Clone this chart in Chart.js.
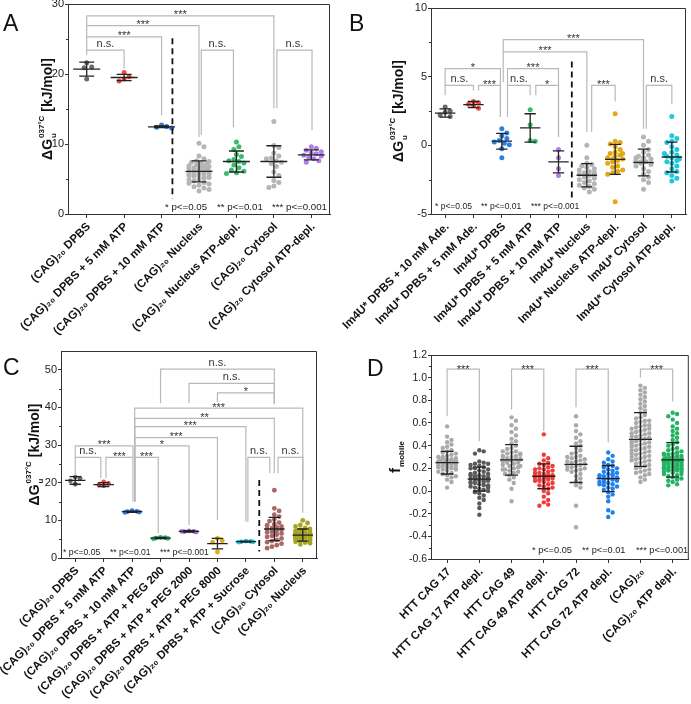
<!DOCTYPE html>
<html>
<head>
<meta charset="utf-8">
<script src="https://cdn.jsdelivr.net/npm/chart.js@4.4.0/dist/chart.umd.min.js"></script>
<style>
  body { margin: 0; background: #fff; }
  #wrap { position: relative; width: 691px; height: 704px; overflow: hidden; font-family: 'Liberation Sans', Arial, sans-serif; }
  canvas { position: absolute; }
  .tag { position: absolute; font-size: 23px; line-height: 1; color: #111; }
</style>
</head>
<body>
<div id="wrap">
  <canvas id="cA" width="345" height="355" style="left:0;top:0"></canvas>
  <canvas id="cB" width="356" height="355" style="left:335px;top:0"></canvas>
  <canvas id="cC" width="345" height="359" style="left:0;top:345px"></canvas>
  <canvas id="cD" width="346" height="359" style="left:345px;top:345px"></canvas>
  <div class="tag" style="left:3px;top:12px">A</div>
  <div class="tag" style="left:349px;top:12px">B</div>
  <div class="tag" style="left:3px;top:356px">C</div>
  <div class="tag" style="left:367px;top:357px">D</div>
</div>
<script>
// ---- data ----

const pNotes = ['* p<=0.05', '** p<=0.01', '*** p<=0.001'];

// A
const aLabels = ['(CAG)₂₀ DPBS', '(CAG)₂₀ DPBS + 5 mM ATP', '(CAG)₂₀ DPBS + 10 mM ATP', '(CAG)₂₀ Nucleus',
  '(CAG)₂₀ Nucleus ATP-depl.', '(CAG)₂₀ Cytosol', '(CAG)₂₀ Cytosol ATP-depl.'];
const aPoints = [
  [21.6, 21.0, 20.9, 19.3],
  [20.2, 19.6, 19.3, 19.0],
  [12.7, 12.5, 12.4, 12.3],
  [10.1, 9.6, 8.3, 7.9, 7.6, 7.4, 7.2, 7.1, 7.0, 6.9, 6.8, 6.7, 6.6, 6.5, 6.4, 6.4, 6.3, 6.2, 6.1, 6.0, 6.0, 5.9,
    5.8, 5.7, 5.6, 5.5, 5.4, 5.3, 5.2, 5.0, 4.9, 4.7, 4.5, 4.3, 4.1, 3.9, 3.7, 3.5, 3.3, 6.6, 5.8, 7.5, 5.1, 6.2, 4.4],
  [10.3, 9.6, 9.2, 8.5, 8.2, 7.8, 7.6, 7.5, 7.3, 7.0, 6.6, 6.3, 6.1, 5.9, 5.8],
  [13.2, 9.8, 9.5, 8.7, 8.3, 8.0, 7.9, 7.6, 7.4, 7.2, 6.8, 6.0, 5.5, 4.8, 4.5, 4.0, 3.8],
  [9.6, 9.4, 9.1, 8.9, 8.7, 8.6, 8.4, 8.3, 8.1, 7.9, 7.6, 7.4]
];
const aMean = [20.7, 19.5, 12.45, 6.1, 7.5, 7.5, 8.45];
const aSd = [1.0, 0.45, 0.12, 1.5, 1.5, 2.25, 0.72];
const aTicks = [0, 10, 20, 30];
const aSig = [
  [0, 1, 23.4, 'n.s.', 22.7, 20.8],
  [0, 2, 25.3, '***', 23.4, 14.1],
  [0, 3, 26.9, '***', 25.3, 11.0],
  [0, 5, 28.3, '***', 26.9, 15.1],
  [3.06, 3.92, 23.4, 'n.s.', 11.3, 12.4],
  [5.08, 6.02, 23.4, 'n.s.', 15.1, 12.0]
];

// B
const bLabels = ['Im4U* DPBS + 10 mM Ade.', 'Im4U* DPBS + 5 mM Ade.', 'Im4U* DPBS', 'Im4U* DPBS + 5 mM ATP',
  'Im4U* DPBS + 10 mM ATP', 'Im4U* Nucleus', 'Im4U* Nucleus ATP-depl.', 'Im4U* Cytosol', 'Im4U* Cytosol ATP-depl.'];
const bPoints = [
  [2.8, 2.5, 2.4, 2.2, 2.1],
  [3.2, 3.1, 3.0, 2.9, 2.7],
  [1.2, 0.9, 0.7, 0.5, 0.35, 0.25, 0.15, 0.05, -0.25, -0.9],
  [2.6, 1.5, 0.35, 0.3],
  [-0.3, -0.9, -1.7, -2.2],
  [0.0, -0.9, -1.3, -1.4, -1.5, -1.6, -1.7, -1.8, -1.9, -2.0, -2.0, -2.1, -2.2, -2.3, -2.4, -2.5, -2.6, -2.7,
    -2.8, -2.9, -3.0, -3.1, -3.2, -3.4, -2.2],
  [2.3, 0.3, 0.2, 0.1, -0.1, -0.3, -0.5, -0.6, -0.7, -0.8, -0.9, -1.0, -1.1, -1.2, -1.3, -1.5, -1.6, -1.8,
    -1.9, -2.0, -2.1, -4.1, -1.0, -0.6],
  [0.6, 0.3, 0.0, -0.3, -0.5, -0.7, -0.8, -0.9, -1.0, -1.1, -1.2, -1.3, -1.4, -1.5, -1.7, -1.9, -2.1, -2.3,
    -2.5, -2.7, -3.2, -1.2, -0.9],
  [2.1, 0.7, 0.5, 0.3, 0.2, -0.1, -0.3, -0.5, -0.7, -0.8, -0.9, -1.0, -1.2, -1.3, -1.5, -1.7, -1.9, -2.0,
    -2.2, -2.4, -2.6, -0.6, -1.1]
];
const bMean = [2.35, 2.97, 0.3, 1.27, -1.2, -2.18, -1.02, -1.25, -0.85];
const bSd = [0.3, 0.22, 0.57, 1.03, 0.8, 0.85, 1.09, 0.97, 1.09];
const bTicks = [-5, 0, 5, 10];
const bSig = [
  [0, 1, 4.37, 'n.s.', 3.64, 4.0],
  [1.18, 1.95, 4.37, '***', 4.0, 2.06],
  [0, 1.95, 5.58, '*', 4.37, 2.06],
  [2.2, 3, 4.37, 'n.s.', 2.06, 3.64],
  [3.2, 4, 4.37, '*', 3.64, 0.6],
  [2.2, 4, 5.58, '***', 4.37, 0.6],
  [2.05, 5, 6.8, '***', 4.6, 0.97],
  [2.05, 7, 7.7, '***', 6.8, 1.2],
  [5.17, 6, 4.37, '***', 0.97, 3.2],
  [7.1, 8, 4.37, 'n.s.', 1.2, 3.0]
];

// C
const cLabels = ['(CAG)₂₀ DPBS', '(CAG)₂₀ DPBS + 5 mM ATP', '(CAG)₂₀ DPBS + 10 mM ATP', '(CAG)₂₀ DPBS + ATP + PEG 200',
  '(CAG)₂₀ DPBS + ATP + PEG 2000', '(CAG)₂₀ DPBS + ATP + PEG 8000', '(CAG)₂₀ DPBS + ATP + Sucrose',
  '(CAG)₂₀ Cytosol', '(CAG)₂₀ Nucleus'];
const cPoints = [
  [21.5, 21.2, 20.5, 19.6],
  [20.2, 19.8, 19.4, 19.2],
  [12.6, 12.4, 12.3, 12.2, 12.1],
  [5.5, 5.4, 5.3, 5.2, 5.1],
  [7.2, 7.1, 7.0, 6.9, 7.1],
  [5.2, 4.6, 4.2, 1.6],
  [4.5, 4.4, 4.3, 4.3, 4.2],
  [18.0, 13.2, 12.5, 11.5, 11.0, 10.2, 9.8, 9.4, 9.0, 8.7, 8.4, 8.1, 7.9, 7.7, 7.5, 7.2, 7.0, 6.8, 6.5, 6.2,
    5.9, 5.6, 5.2, 4.8, 4.5, 4.2, 3.8, 3.4, 3.0, 2.6],
  [10.0, 9.3, 8.8, 8.4, 8.0, 7.7, 7.5, 7.3, 7.1, 7.0, 6.9, 6.8, 6.7, 6.6, 6.5, 6.4, 6.3, 6.3, 6.2, 6.1, 6.0,
    6.0, 5.9, 5.8, 5.7, 5.6, 5.5, 5.4, 5.3, 5.2, 5.1, 5.0, 4.9, 4.7, 4.5, 4.3, 4.1, 3.9, 3.6, 6.5, 6.2, 5.8]
];
const cMean = [20.6, 19.5, 12.3, 5.3, 7.05, 3.8, 4.35, 7.7, 6.1];
const cSd = [1.0, 0.55, 0.15, 0.15, 0.2, 1.4, 0.1, 3.1, 1.6];
const cTicks = [0, 10, 20, 30, 40, 50];
const cSig = [
  [3, 7, 50.2, 'n.s.', 41.1, 41.0],
  [4, 7, 46.4, 'n.s.', 41.1, 41.0],
  [5, 7, 43.9, '*', 41.3, 41.0],
  [2.09, 8, 39.8, '***', 15.0, 20.7],
  [2.09, 7, 37.1, '**', 15.0, 22.5],
  [2.09, 6, 34.9, '***', 15.0, 9.6],
  [2.09, 5, 32.0, '***', 15.0, 10.1],
  [2.09, 4, 29.8, '*', 15.0, 8.8],
  [0, 2.03, 29.8, '***', 26.75, 26.75],
  [0, 0.9, 26.75, 'n.s.', 22.0, 21.2],
  [1.08, 2.03, 26.75, '***', 21.2, 15.0],
  [2.09, 2.92, 26.75, '***', 15.0, 6.6],
  [6.07, 6.84, 26.75, 'n.s.', 9.6, 22.5],
  [7.13, 8, 26.75, 'n.s.', 22.5, 12.0]
];

// D
const dLabels = ['HTT CAG 17', 'HTT CAG 17 ATP depl.', 'HTT CAG 49', 'HTT CAG 49 ATP depl.', 'HTT CAG 72',
  'HTT CAG 72 ATP depl.', '(CAG)₂₀', '(CAG)₂₀ ATP depl.'];
const dPoints = [
  [0.57, 0.48, 0.45, 0.43, 0.41, 0.39, 0.38, 0.36, 0.35, 0.34, 0.33, 0.32, 0.31, 0.30, 0.30, 0.29, 0.28, 0.28,
    0.27, 0.27, 0.26, 0.26, 0.25, 0.25, 0.24, 0.24, 0.23, 0.23, 0.22, 0.22, 0.21, 0.21, 0.20, 0.20, 0.19, 0.18,
    0.17, 0.16, 0.15, 0.14, 0.13, 0.12, 0.10, 0.08, 0.03, 0.27, 0.25, 0.22, 0.19, 0.29],
  [0.36, 0.35, 0.33, 0.26, 0.25, 0.24, 0.24, 0.23, 0.22, 0.21, 0.20, 0.19, 0.18, 0.17, 0.16, 0.15, 0.14, 0.14,
    0.13, 0.12, 0.12, 0.11, 0.11, 0.10, 0.10, 0.09, 0.09, 0.08, 0.08, 0.07, 0.06, 0.05, 0.05, 0.04, 0.03, 0.02,
    0.01, 0.00, -0.01, -0.02, -0.04, -0.06, -0.08, -0.11, -0.15, -0.21, 0.13, 0.10, 0.07, 0.20, 0.15, 0.03],
  [0.65, 0.62, 0.58, 0.55, 0.52, 0.49, 0.46, 0.44, 0.42, 0.40, 0.38, 0.37, 0.35, 0.34, 0.33, 0.32, 0.31, 0.30,
    0.30, 0.29, 0.28, 0.28, 0.27, 0.27, 0.26, 0.25, 0.24, 0.23, 0.22, 0.21, 0.20, 0.19, 0.18, 0.17, 0.16, 0.15,
    0.14, 0.12, 0.10, 0.07, 0.02, -0.09, 0.31, 0.28, 0.25, 0.22, 0.35, 0.19, 0.26, 0.33],
  [0.50, 0.32, 0.29, 0.27, 0.25, 0.24, 0.23, 0.22, 0.21, 0.20, 0.19, 0.18, 0.17, 0.16, 0.15, 0.15, 0.14, 0.14,
    0.13, 0.13, 0.12, 0.12, 0.11, 0.11, 0.10, 0.10, 0.09, 0.08, 0.07, 0.06, 0.05, 0.04, 0.03, 0.02, 0.00, -0.02,
    -0.05, -0.08, -0.10, -0.12, -0.13, 0.16, 0.13, 0.09, 0.19],
  [0.66, 0.58, 0.53, 0.50, 0.47, 0.44, 0.42, 0.40, 0.38, 0.36, 0.34, 0.33, 0.31, 0.30, 0.29, 0.28, 0.27, 0.26,
    0.25, 0.24, 0.23, 0.22, 0.21, 0.20, 0.19, 0.18, 0.17, 0.15, 0.13, 0.11, 0.09, 0.07, 0.05, 0.03, -0.13, -0.32,
    0.26, 0.22, 0.30, 0.19],
  [0.34, 0.31, 0.28, 0.26, 0.25, 0.23, 0.22, 0.21, 0.20, 0.19, 0.18, 0.17, 0.16, 0.15, 0.14, 0.13, 0.12, 0.12,
    0.11, 0.10, 0.10, 0.09, 0.08, 0.07, 0.06, 0.05, 0.04, 0.03, 0.02, 0.01, -0.01, -0.03, -0.05, -0.09, -0.17,
    -0.19, -0.23, 0.14, 0.11, 0.08, 0.15, 0.06],
  [0.93, 0.91, 0.89, 0.87, 0.85, 0.83, 0.81, 0.79, 0.77, 0.75, 0.73, 0.71, 0.69, 0.67, 0.65, 0.64, 0.62, 0.61,
    0.60, 0.58, 0.57, 0.56, 0.55, 0.54, 0.53, 0.52, 0.51, 0.50, 0.49, 0.48, 0.47, 0.46, 0.45, 0.44, 0.43, 0.42,
    0.41, 0.40, 0.39, 0.38, 0.37, 0.36, 0.35, 0.34, 0.33, 0.32, 0.31, 0.30, 0.29, 0.28, 0.27, 0.26, 0.25, 0.24,
    0.23, 0.22, 0.21, 0.20, 0.19, 0.18, 0.17, 0.16, 0.15, 0.14, 0.12, 0.10, 0.08, 0.55, 0.48, 0.42, 0.36, 0.30,
    0.62, 0.44, 0.51, 0.27, 0.33, 0.39, 0.58, 0.46],
  [0.69, 0.68, 0.66, 0.63, 0.60, 0.57, 0.55, 0.53, 0.51, 0.49, 0.47, 0.45, 0.43, 0.41, 0.40, 0.38, 0.37, 0.36,
    0.35, 0.34, 0.33, 0.32, 0.32, 0.31, 0.30, 0.30, 0.29, 0.29, 0.28, 0.28, 0.27, 0.27, 0.26, 0.26, 0.25, 0.25,
    0.24, 0.24, 0.23, 0.23, 0.22, 0.22, 0.21, 0.21, 0.20, 0.20, 0.19, 0.19, 0.18, 0.18, 0.17, 0.16, 0.15, 0.14,
    0.13, 0.12, 0.11, 0.10, 0.09, 0.08, 0.06, 0.05, 0.27, 0.25, 0.23, 0.21, 0.29, 0.31, 0.19, 0.17, 0.24, 0.26,
    0.22, 0.28, 0.20, 0.33, 0.15, 0.18]
];
const dMean = [0.25, 0.105, 0.275, 0.13, 0.235, 0.11, 0.455, 0.275];
const dSd = [0.1, 0.105, 0.135, 0.11, 0.16, 0.115, 0.237, 0.152];
const dTicks = [-0.6, -0.4, -0.2, 0, 0.2, 0.4, 0.6, 0.8, 1.0, 1.2];
const dSig = [
  [0, 1, 1.075, '***', 0.66, 0.44],
  [2, 3, 1.075, '***', 0.72, 0.53],
  [4, 5, 1.075, '***', 0.74, 0.43],
  [6, 7, 1.075, '***', 1.0, 0.79]
];

// ---- drawing ----

const FONT = "'Liberation Sans', Arial, sans-serif";

// spread the dots of one group sideways so they do not sit on top of each other
function swarm(vals, pxX, pxY, r, maxCat) {
  const placed = [];
  const maxW = maxCat * pxX;
  return vals.map(v => {
    const y = v * pxY;
    let best = 0, bestOv = Infinity;
    for (let k = 0; ; k++) {
      const c = (k % 2 ? 1 : -1) * Math.ceil(k / 2) * r;
      if (Math.abs(c) > maxW) break;
      let ov = 0;
      for (const p of placed) {
        const d = Math.hypot(p.x - c, p.y - y);
        if (d < 2 * r) ov += 2 * r - d;
      }
      if (ov < bestOv - 1e-9) { bestOv = ov; best = c; }
      if (ov === 0) break;
    }
    placed.push({ x: best, y });
    return best / pxX;
  });
}

function drawTitle(ctx, cx, cy, parts) {
  ctx.save();
  ctx.translate(cx, cy);
  ctx.rotate(-Math.PI / 2);
  ctx.fillStyle = '#111';
  ctx.textAlign = 'left';
  ctx.textBaseline = 'alphabetic';
  const widths = parts.map(p => {
    ctx.font = `bold ${p.s}px ${FONT}`;
    if (p.t) return ctx.measureText(p.t).width;
    return Math.max(p.sup ? ctx.measureText(p.sup).width : 0, p.sub ? ctx.measureText(p.sub).width : 0) + 1;
  });
  let px = -widths.reduce((a, b) => a + b, 0) / 2;
  const base = 5;
  parts.forEach((p, k) => {
    ctx.font = `bold ${p.s}px ${FONT}`;
    if (p.t) ctx.fillText(p.t, px, base);
    if (p.sup) ctx.fillText(p.sup, px + 1, base - 8);
    if (p.sub) ctx.fillText(p.sub, px + 1, base + 4);
    px += widths[k];
  });
  ctx.restore();
}

function overlay(cfg) {
  return {
    id: 'overlay',
    afterDraw(chart) {
      const { ctx, chartArea: a, scales: { x, y } } = chart;
      const pxX = a.width / cfg.labels.length;
      ctx.save();

      // frame top + right
      ctx.strokeStyle = '#333';
      ctx.lineWidth = 1;
      ctx.beginPath();
      ctx.moveTo(a.left, a.top + 0.5);
      ctx.lineTo(a.right - 0.5, a.top + 0.5);
      ctx.lineTo(a.right - 0.5, a.bottom);
      ctx.stroke();

      // minor ticks
      ctx.beginPath();
      for (let k = 0; k < cfg.yTicks.length - 1; k++) {
        const py = Math.round(y.getPixelForValue((cfg.yTicks[k] + cfg.yTicks[k + 1]) / 2)) + 0.5;
        ctx.moveTo(a.left - 2, py);
        ctx.lineTo(a.left, py);
      }
      ctx.stroke();

      // dashed divider
      if (cfg.divider) {
        const dx = x.getPixelForValue(cfg.divider[0]);
        ctx.save();
        ctx.strokeStyle = '#111';
        ctx.lineWidth = 1.8;
        ctx.setLineDash([6, 4]);
        ctx.beginPath();
        ctx.moveTo(dx, y.getPixelForValue(cfg.divider[1]));
        ctx.lineTo(dx, y.getPixelForValue(cfg.divider[2]));
        ctx.stroke();
        ctx.restore();
      }

      // significance brackets
      ctx.strokeStyle = '#b9b9b9';
      ctx.lineWidth = 1.2;
      ctx.fillStyle = '#333';
      ctx.font = `11px ${FONT}`;
      ctx.textAlign = 'center';
      ctx.textBaseline = 'alphabetic';
      cfg.sig.forEach(([i, j, top, txt, fi, fj]) => {
        const x1 = x.getPixelForValue(i), x2 = x.getPixelForValue(j), yt = y.getPixelForValue(top);
        ctx.beginPath();
        ctx.moveTo(x1, y.getPixelForValue(fi));
        ctx.lineTo(x1, yt);
        ctx.lineTo(x2, yt);
        ctx.lineTo(x2, y.getPixelForValue(fj));
        ctx.stroke();
        ctx.fillText(txt, (x1 + x2) / 2, txt[0] === '*' ? yt + cfg.starDy : yt - 3);
      });

      // mean and SD
      ctx.strokeStyle = '#222';
      ctx.lineWidth = 1.3;
      const hw = pxX * 0.36, cw = pxX * 0.2;
      cfg.mean.forEach((m, i) => {
        const cx = x.getPixelForValue(i);
        const ym = y.getPixelForValue(m);
        const yh = y.getPixelForValue(m + cfg.sd[i]);
        const yl = y.getPixelForValue(m - cfg.sd[i]);
        ctx.beginPath();
        ctx.moveTo(cx - hw, ym); ctx.lineTo(cx + hw, ym);
        ctx.moveTo(cx, yh); ctx.lineTo(cx, yl);
        ctx.moveTo(cx - cw, yh); ctx.lineTo(cx + cw, yh);
        ctx.moveTo(cx - cw, yl); ctx.lineTo(cx + cw, yl);
        ctx.stroke();
      });

      // p-value legend
      ctx.fillStyle = '#222';
      ctx.textAlign = 'left';
      ctx.font = `${cfg.noteSize}px ${FONT}`;
      pNotes.forEach((t, k) => ctx.fillText(t, cfg.noteX[k], cfg.noteY));

      drawTitle(ctx, cfg.titleX, (a.top + a.bottom) / 2, cfg.title);
      ctx.restore();
    }
  };
}

function makePanel(id, cfg) {
  const cv = document.getElementById(id);
  const W = cv.width, H = cv.height;
  const ar = cfg.area;
  const pxX = (ar.r - ar.l) / cfg.labels.length;
  const pxY = (ar.b - ar.t) / (cfg.yMax - cfg.yMin);
  const datasets = cfg.points.map((vals, i) => {
    const offs = swarm(vals, pxX, pxY, cfg.r, 0.33);
    return {
      data: vals.map((v, k) => ({ x: i + offs[k], y: v })),
      backgroundColor: cfg.colors[i],
      borderWidth: 0,
      pointRadius: cfg.r,
      pointHoverRadius: cfg.r
    };
  });

  new Chart(cv, {
    type: 'scatter',
    data: { datasets },
    options: {
      responsive: false,
      animation: false,
      devicePixelRatio: 1,
      layout: { padding: { top: ar.t, right: W - ar.r, left: 0, bottom: 0 } },
      plugins: { legend: { display: false }, tooltip: { enabled: false } },
      scales: {
        x: {
          type: 'linear',
          min: -0.5,
          max: cfg.labels.length - 0.5,
          afterBuildTicks: s => { s.ticks = cfg.labels.map((_, i) => ({ value: i })); },
          afterFit: s => { s.height = H - ar.b; s.paddingLeft = 0; s.paddingRight = 0; },
          grid: { drawOnChartArea: false, tickLength: 4, color: '#333' },
          border: { color: '#333' },
          ticks: {
            autoSkip: false, minRotation: 45, maxRotation: 45, padding: 2, labelOffset: 2,
            color: '#111', font: { family: FONT, size: 11.5, weight: 'bold' },
            callback: v => cfg.labels[v]
          }
        },
        y: {
          min: cfg.yMin,
          max: cfg.yMax,
          afterBuildTicks: s => { s.ticks = cfg.yTicks.map(v => ({ value: v })); },
          afterFit: s => { s.width = ar.l; s.paddingTop = 0; s.paddingBottom = 0; },
          grid: { drawOnChartArea: false, tickLength: 3, color: '#333' },
          border: { color: '#333' },
          ticks: {
            padding: 1, color: '#222', font: { family: FONT, size: cfg.tickSize },
            callback: cfg.fmt || (v => v)
          }
        }
      }
    },
    plugins: [overlay(cfg)]
  });
}

const dGTitle = [{ t: 'ΔG', s: 14 }, { sup: '037°C', sub: 'u', s: 8 }, { t: ' [kJ/mol]', s: 14 }];

makePanel('cA', {
  labels: aLabels, points: aPoints, mean: aMean, sd: aSd, sig: aSig, yTicks: aTicks,
  colors: ['#6b6b6b', '#f04b4b', '#2a7fe0', '#b5b5b5', '#3cba6f', '#b5b5b5', '#b07ee6'],
  yMin: 0, yMax: 30, area: { l: 68, t: 4, r: 330, b: 214 }, r: 2.5, tickSize: 11,
  divider: [2.29, 25.1, 2.2], starDy: 2.5,
  noteX: [165, 217, 272], noteY: 210, noteSize: 9.7,
  titleX: 47, title: dGTitle
});

makePanel('cB', {
  labels: bLabels, points: bPoints, mean: bMean, sd: bSd, sig: bSig, yTicks: bTicks,
  colors: ['#6b6b6b', '#f04b4b', '#2a7fe0', '#3cba6f', '#b07ee6', '#b5b5b5', '#e2a915', '#b5b5b5', '#1fc8dc'],
  yMin: -5, yMax: 10, area: { l: 96, t: 8, r: 351, b: 214 }, r: 2.5, tickSize: 11,
  divider: [4.47, 6.1, -4.0], starDy: 2.5,
  noteX: [100, 146, 196], noteY: 209, noteSize: 8.5,
  titleX: 63, title: dGTitle
});

makePanel('cC', {
  labels: cLabels, points: cPoints, mean: cMean, sd: cSd, sig: cSig, yTicks: cTicks,
  colors: ['#6b6b6b', '#f04b4b', '#2a7fe0', '#2db56b', '#9f6fd6', '#e2a915', '#1fc8dc', '#a86868', '#a5a521'],
  yMin: 0, yMax: 55, area: { l: 61, t: 6, r: 317, b: 213 }, r: 2.4, tickSize: 11,
  divider: [6.47, 20.7, 1.7], starDy: 2.5,
  noteX: [63, 110, 160], noteY: 210, noteSize: 8.6,
  titleX: 34, title: dGTitle
});

makePanel('cD', {
  labels: dLabels, points: dPoints, mean: dMean, sd: dSd, sig: dSig, yTicks: dTicks,
  colors: ['#aaaaaa', '#5a5a5a', '#aaaaaa', '#f03c3c', '#aaaaaa', '#2080f0', '#aaaaaa', '#24b263'],
  yMin: -0.6, yMax: 1.2, area: { l: 86, t: 10, r: 345, b: 214 }, r: 2.2, tickSize: 10.5,
  divider: null, starDy: 4,
  noteX: [187, 237, 291], noteY: 208, noteSize: 9.2,
  titleX: 50, title: [{ t: 'f', s: 15 }, { sub: 'mobile', s: 8 }],
  fmt: v => v.toFixed(1)
});
</script>
</body>
</html>
